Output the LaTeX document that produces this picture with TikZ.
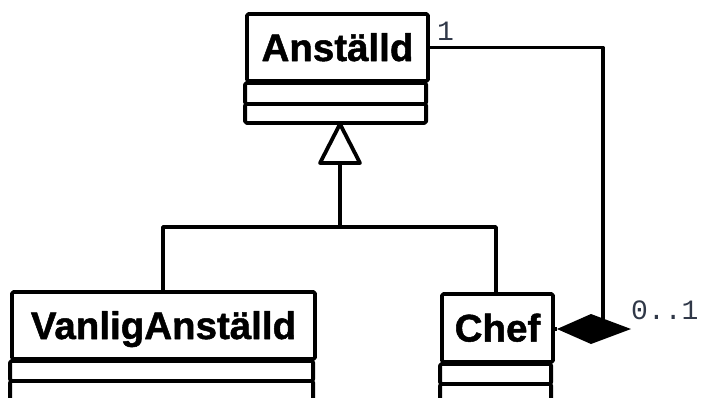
\documentclass[tikz,border=0pt]{standalone}
\usepackage{fontspec}
\setmainfont{Liberation Sans}
\newfontfamily\classfont[UprightFont=*-Bold, FakeBold=1.3]{Liberation Sans}
\newfontfamily\labelfont{Liberation Mono}
\definecolor{lblcol}{HTML}{303848}
\tikzset{
  umlline/.style={line width=3.8pt, line join=round},
  classname/.style={draw, umlline, rounded corners=1.5pt, inner sep=0pt,
    font=\classfont\fontsize{38.5}{38.5}\selectfont, text height=27pt, text depth=0pt},
  compart/.style={draw, umlline, rounded corners=1.5pt},
  mult/.style={font=\labelfont\fontsize{28}{28}\selectfont, text=lblcol, inner sep=0pt, anchor=base west},
}
\begin{document}
\begin{tikzpicture}[x=1pt,y=-1pt]
\clip (0,0) rectangle (701,397);
\fill[white] (0,0) rectangle (701,397);
% classes
\node[classname, minimum width=181pt, minimum height=67pt] (anst) at (337.5,47.5) {Anställd};
\draw[compart] (anst.south west) rectangle ++(181,21);
\draw[compart] (anst.south west) ++(0,21) rectangle ++(181,19);
\node[classname, minimum width=303pt, minimum height=67pt] (vanlig) at (163.5,325.5) {VanligAnställd};
\draw[compart] (vanlig.south west) rectangle ++(303,20);
\draw[compart] (vanlig.south west) ++(0,20) rectangle ++(303,40);
\node[classname, minimum width=111pt, minimum height=68pt] (chef) at (497.5,328) {Chef};
\draw[compart] (chef.south west) rectangle ++(111,20);
\draw[compart] (chef.south west) ++(0,20) rectangle ++(111,40);
% generalization
\coordinate (apex) at (340,124);
\coordinate (tribase) at (340,163);
\coordinate (junc) at (340,227);
\draw[umlline, fill=white] (apex) -- (360,163) -- (320,163) -- cycle;
\draw[umlline] (tribase) -- (junc);
\draw[umlline] (vanlig.north -| 163,0) |- (junc) -| (chef.north -| 496,0);
% composition
\coordinate (dL) at (557,329);
\coordinate (dR) at (631,329);
\coordinate (bend) at (603,47.5);
\draw[umlline] (anst.east) -- (bend) -- (bend |- dL);
\draw[umlline] (chef.east |- dL) -- (dL);
\fill[black] (dL) -- (591,314) -- (dR) -- (591,344) -- cycle;
\node[mult] (m1) at (437,40) {1};
\node[mult] (m2) at (631,319) {0..1};
\end{tikzpicture}
\end{document}
